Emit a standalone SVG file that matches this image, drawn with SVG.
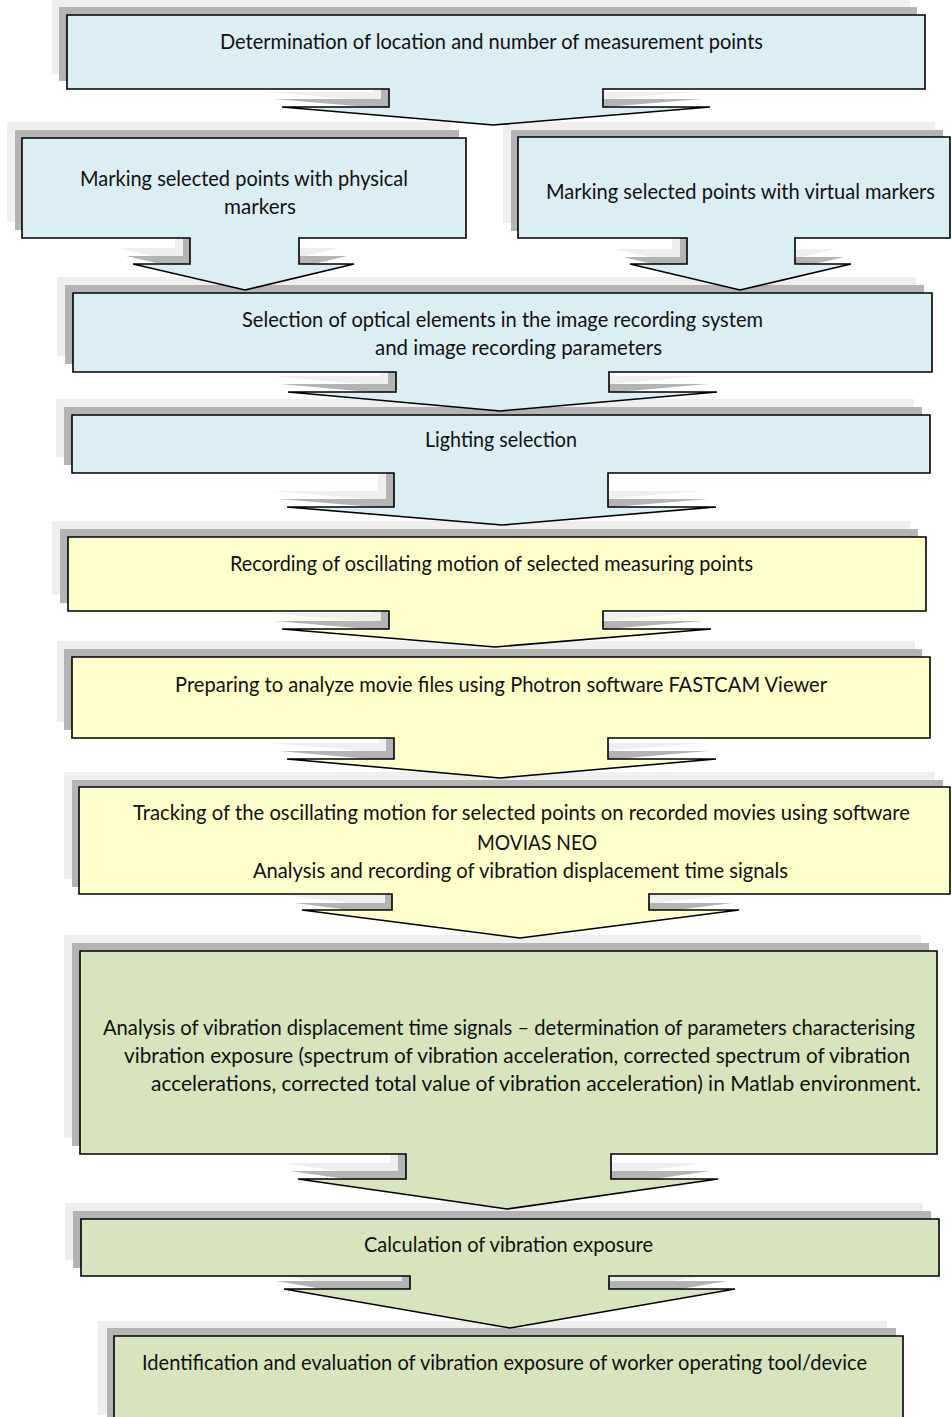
<svg xmlns="http://www.w3.org/2000/svg" xmlns:xlink="http://www.w3.org/1999/xlink" width="952" height="1417" viewBox="0 0 952 1417">
<style>
.sh2{fill:#b4b4b4}
.sh1{fill:#efefef}
.box{stroke:#000;stroke-width:1.6;stroke-linejoin:miter}
.blue{fill:#dbeef4}
.yel{fill:#ffffcc}
.grn{fill:#d7e4bd}
text{font-family:Lato,"Liberation Sans",sans-serif;font-size:21px;fill:#111;text-anchor:middle}
</style>
<defs>
<path id="p1" d="M67,15 H925 V89 H603 V107 H710 L493,125 L282,107 H389 V89 H67 Z"/>
<path id="p2a" d="M22,138 H466 V238 H299 V264 H354 L245,290 L133,264 H190 V238 H22 Z"/>
<path id="p2b" d="M518,137 H950 V238 H795 V264 H851 L740,290 L630,264 H687 V238 H518 Z"/>
<path id="p3" d="M73,293 H932 V372 H609 V392 H717 L500,411 L288,392 H396 V372 H73 Z"/>
<path id="p4" d="M72,415 H930 V473 H608 V507 H716 L502,525 L287,507 H394 V473 H72 Z"/>
<path id="p5" d="M68,537 H926 V611 H603 V629 H711 L495,647 L282,629 H389 V611 H68 Z"/>
<path id="p6" d="M72,657 H930 V738 H608 V759 H716 L500,778 L287,759 H394 V738 H72 Z"/>
<path id="p7" d="M79,787 H950 V894 H649 V910 H739 L520,938 L302,910 H392 V894 H79 Z"/>
<path id="p8" d="M80,951 H937 V1154 H611 V1179 H718 L507,1209 L298,1179 H406 V1154 H80 Z"/>
<path id="p9" d="M81,1219 H939 V1276 H609 V1289 H735 L510,1328 L284,1289 H410 V1276 H81 Z"/>
<path id="p10" d="M114,1336 H903 V1430 H114 Z"/>
</defs>
<rect width="952" height="1417" fill="#fff"/>

<g id="node10">
<use href="#p10" class="sh1" transform="translate(-16,-15)"/>
<use href="#p10" class="sh2" transform="translate(-7,-8)"/>
<use href="#p10" class="box grn"/>
<text x="504.5" y="1370" textLength="725" lengthAdjust="spacingAndGlyphs">Identification and evaluation of vibration exposure of worker operating tool/device</text>
</g>

<g id="node9">
<use href="#p9" class="sh1" transform="translate(-16,-16)"/>
<use href="#p9" class="sh2" transform="translate(-8,-8)"/>
<use href="#p9" class="box grn"/>
<text x="508.5" y="1252" textLength="289" lengthAdjust="spacingAndGlyphs">Calculation of vibration exposure</text>
</g>

<g id="node8">
<use href="#p8" class="sh1" transform="translate(-16,-16)"/>
<use href="#p8" class="sh2" transform="translate(-8,-8)"/>
<use href="#p8" class="box grn"/>
<text x="509" y="1035" textLength="812" lengthAdjust="spacingAndGlyphs">Analysis of vibration displacement time signals – determination of parameters characterising</text>
<text x="517" y="1063" textLength="786" lengthAdjust="spacingAndGlyphs">vibration exposure (spectrum of vibration acceleration, corrected spectrum of vibration</text>
<text x="536" y="1091" textLength="770" lengthAdjust="spacingAndGlyphs">accelerations, corrected total value of vibration acceleration) in Matlab environment.</text>
</g>

<g id="node7">
<use href="#p7" class="sh1" transform="translate(-15,-15)"/>
<use href="#p7" class="sh2" transform="translate(-7,-7)"/>
<use href="#p7" class="box yel"/>
<text x="521.5" y="820" textLength="777" lengthAdjust="spacingAndGlyphs">Tracking of the oscillating motion for selected points on recorded movies using software</text>
<text x="537" y="850" textLength="120" lengthAdjust="spacingAndGlyphs">MOVIAS NEO</text>
<text x="520.5" y="878" textLength="535" lengthAdjust="spacingAndGlyphs">Analysis and recording of vibration displacement time signals</text>
</g>

<g id="node6">
<use href="#p6" class="sh1" transform="translate(-15,-16)"/>
<use href="#p6" class="sh2" transform="translate(-8,-8)"/>
<use href="#p6" class="box yel"/>
<text x="501" y="692" textLength="652" lengthAdjust="spacingAndGlyphs">Preparing to analyze movie files using Photron software FASTCAM Viewer</text>
</g>

<g id="node5">
<use href="#p5" class="sh1" transform="translate(-16,-16)"/>
<use href="#p5" class="sh2" transform="translate(-8,-8)"/>
<use href="#p5" class="box yel"/>
<text x="491.5" y="571" textLength="523" lengthAdjust="spacingAndGlyphs">Recording of oscillating motion of selected measuring points</text>
</g>

<g id="node4">
<use href="#p4" class="sh1" transform="translate(-16,-16)"/>
<use href="#p4" class="sh2" transform="translate(-8,-8)"/>
<use href="#p4" class="box blue"/>
<text x="501" y="447" textLength="152" lengthAdjust="spacingAndGlyphs">Lighting selection</text>
</g>

<g id="node3">
<use href="#p3" class="sh1" transform="translate(-16,-16)"/>
<use href="#p3" class="sh2" transform="translate(-8,-8)"/>
<use href="#p3" class="box blue"/>
<text x="502.5" y="327" textLength="521" lengthAdjust="spacingAndGlyphs">Selection of optical elements in the image recording system</text>
<text x="518.5" y="355" textLength="287" lengthAdjust="spacingAndGlyphs">and image recording parameters</text>
</g>

<g id="node2b">
<use href="#p2b" class="sh1" transform="translate(-15,-15)"/>
<use href="#p2b" class="sh2" transform="translate(-7,-7)"/>
<use href="#p2b" class="box blue"/>
<text x="740.5" y="199" textLength="389" lengthAdjust="spacingAndGlyphs">Marking selected points with virtual markers</text>
</g>

<g id="node2a">
<use href="#p2a" class="sh1" transform="translate(-15,-16)"/>
<use href="#p2a" class="sh2" transform="translate(-7,-8)"/>
<use href="#p2a" class="box blue"/>
<text x="244" y="186" textLength="328" lengthAdjust="spacingAndGlyphs">Marking selected points with physical</text>
<text x="260" y="214" textLength="72" lengthAdjust="spacingAndGlyphs">markers</text>
</g>

<g id="node1">
<use href="#p1" class="sh1" transform="translate(-15,-15)"/>
<use href="#p1" class="sh2" transform="translate(-8,-8)"/>
<use href="#p1" class="box blue"/>
<text x="491.5" y="49" textLength="543" lengthAdjust="spacingAndGlyphs">Determination of location and number of measurement points</text>
</g>
</svg>
